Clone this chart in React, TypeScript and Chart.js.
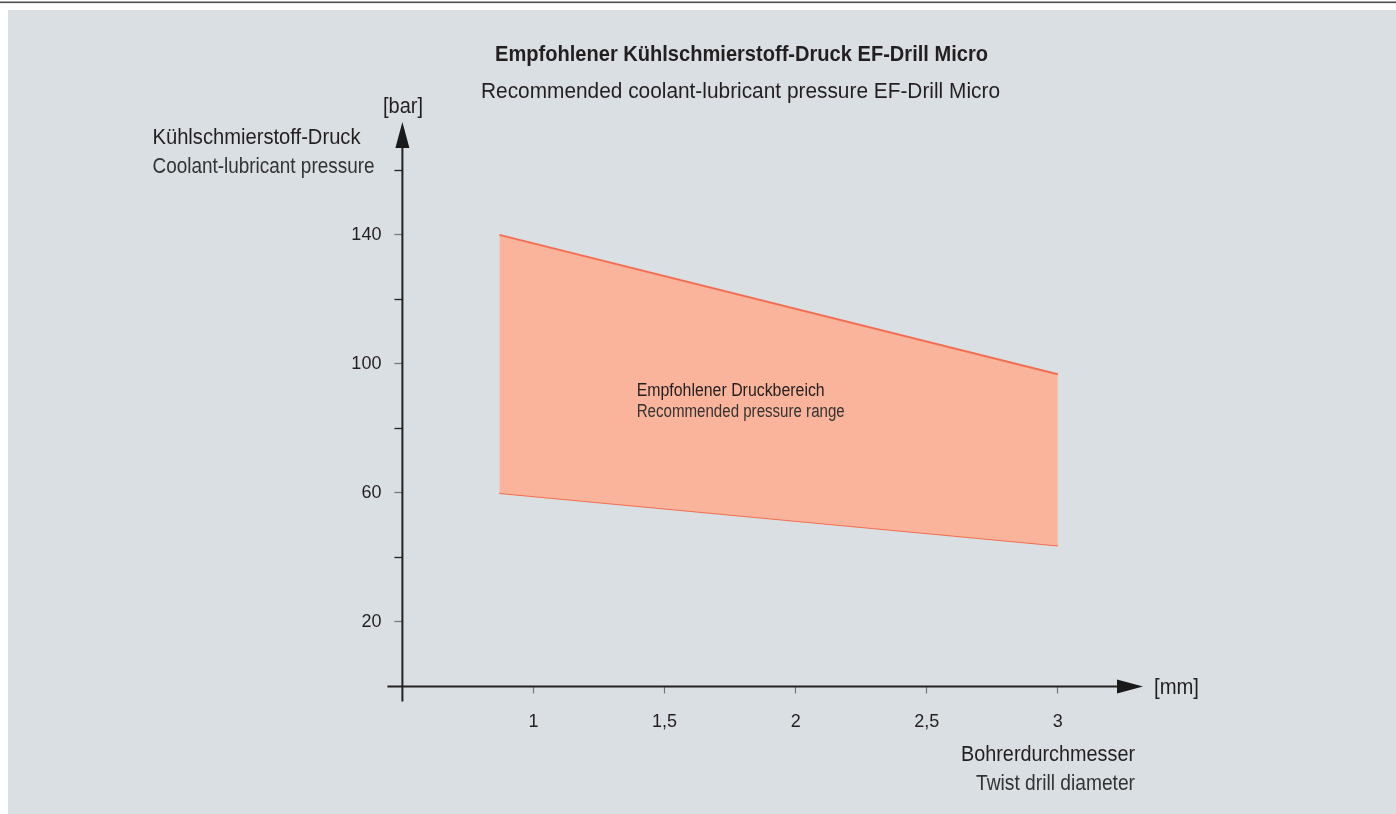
import React, { useEffect, useRef } from 'react';
import { Chart, registerables } from 'chart.js';

Chart.register(...registerables);

// ---- data ----
const upperX = [0.87, 3.0];
const upperY = [140, 96.8];
const lowerX = [0.87, 3.0];
const lowerY = [60, 43.7];
const yLabeledTicks = [20, 60, 100, 140];
const xTickValues = [1, 1.5, 2, 2.5, 3];
const xTickLabels = ['1', '1,5', '2', '2,5', '3'];

const titleDe = 'Empfohlener Kühlschmierstoff-Druck EF-Drill Micro';
const titleEn = 'Recommended coolant-lubricant pressure EF-Drill Micro';
const yUnit = '[bar]';
const yTitleDe = 'Kühlschmierstoff-Druck';
const yTitleEn = 'Coolant-lubricant pressure';
const xUnit = '[mm]';
const xTitleDe = 'Bohrerdurchmesser';
const xTitleEn = 'Twist drill diameter';
const areaDe = 'Empfohlener Druckbereich';
const areaEn = 'Recommended pressure range';

const FONT = '"Liberation Sans", Arial, sans-serif';
const DARK = '#231f20';
const LINE = '#f26e50';
const FILL = '#f9b49b';

type T = { text: string; x: number; y: number; w: number; size: number; bold?: boolean; align?: CanvasTextAlign; color?: string };

const texts: T[] = [
  { text: titleDe, x: 741.5, y: 61, w: 493, size: 22, bold: true, align: 'center' },
  { text: titleEn, x: 740.5, y: 98, w: 519, size: 22, align: 'center' },
  { text: yUnit, x: 383, y: 113, w: 40, size: 22 },
  { text: yTitleDe, x: 152.5, y: 144, w: 208, size: 22 },
  { text: yTitleEn, x: 152.5, y: 173, w: 222, size: 22, color: '#333' },
  { text: xUnit, x: 1154, y: 694, w: 45, size: 22 },
  { text: xTitleDe, x: 961, y: 761, w: 174, size: 22 },
  { text: xTitleEn, x: 1135, y: 790, w: 159, size: 22, align: 'right', color: '#333' },
  { text: areaDe, x: 636.7, y: 396, w: 188, size: 18 },
  { text: areaEn, x: 636.7, y: 417, w: 208, size: 18, color: '#333' },
];

const decorPlugin = {
  id: 'decor',
  beforeDraw(chart: any) {
    const ctx = chart.ctx as CanvasRenderingContext2D;
    ctx.save();
    ctx.fillStyle = '#ffffff';
    ctx.fillRect(0, 0, chart.width, chart.height);
    ctx.fillStyle = '#4d4d4d';
    ctx.fillRect(0, 1.5, chart.width, 1.6);
    ctx.fillStyle = '#dadfe3';
    ctx.fillRect(8, 10, chart.width - 8, chart.height - 10);
    ctx.restore();
  },
  afterDraw(chart: any) {
    const ctx = chart.ctx as CanvasRenderingContext2D;
    const xs = chart.scales.x;
    const ys = chart.scales.y;
    const area = chart.chartArea;
    const x0 = xs.getPixelForValue(xs.min);
    const y0 = ys.getPixelForValue(0);
    ctx.save();
    ctx.strokeStyle = '#222';
    ctx.fillStyle = '#1a1a1a';
    ctx.lineWidth = 2;
    // y axis
    ctx.beginPath();
    ctx.moveTo(x0, y0 + 15);
    ctx.lineTo(x0, area.top + 20);
    ctx.stroke();
    // x axis
    ctx.beginPath();
    ctx.moveTo(x0 - 15, y0);
    ctx.lineTo(area.right - 20, y0);
    ctx.stroke();
    // arrows
    ctx.beginPath();
    ctx.moveTo(x0, area.top);
    ctx.lineTo(x0 - 7, area.top + 26);
    ctx.lineTo(x0 + 7, area.top + 26);
    ctx.closePath();
    ctx.fill();
    ctx.beginPath();
    ctx.moveTo(area.right, y0);
    ctx.lineTo(area.right - 26, y0 - 7);
    ctx.lineTo(area.right - 26, y0 + 7);
    ctx.closePath();
    ctx.fill();
    // texts
    ctx.textBaseline = 'alphabetic';
    for (const t of texts) {
      ctx.font = `${t.bold ? 'bold ' : ''}${t.size}px ${FONT}`;
      ctx.fillStyle = t.color || DARK;
      ctx.textAlign = t.align || 'left';
      ctx.fillText(t.text, t.x, t.y, t.w);
    }
    ctx.restore();
  },
};

const near = (a: number, b: number) => Math.abs(a - b) < 1e-6;

export default function App() {
  const ref = useRef<HTMLCanvasElement | null>(null);
  useEffect(() => {
    if (!ref.current) return;
    const chart = new Chart(ref.current, {
      type: 'line',
      data: {
        datasets: [
          {
            label: 'upper',
            data: upperX.map((x, i) => ({ x, y: upperY[i] })),
            borderColor: LINE,
            borderWidth: 2,
            backgroundColor: FILL,
            pointRadius: 0,
            fill: '+1',
          },
          {
            label: 'lower',
            data: lowerX.map((x, i) => ({ x, y: lowerY[i] })),
            borderColor: LINE,
            borderWidth: 2,
            backgroundColor: FILL,
            pointRadius: 0,
            fill: false,
          },
        ],
      },
      options: {
        animation: false,
        responsive: false,
        devicePixelRatio: 1,
        layout: { padding: { left: 300, right: 253, top: 122, bottom: 67.5 } },
        plugins: { legend: { display: false }, tooltip: { enabled: false }, title: { display: false } },
        scales: {
          x: {
            type: 'linear',
            min: 0.5,
            max: 3.325,
            afterFit: (s: any) => { s.height = 60; },
            border: { display: false },
            grid: {
              drawOnChartArea: false,
              drawTicks: true,
              tickLength: 7,
              tickWidth: 1.2,
              tickColor: '#777',
            },
            ticks: {
              stepSize: 0.5,
              includeBounds: false,
              autoSkip: false,
              maxRotation: 0,
              padding: 18,
              color: DARK,
              font: { family: FONT, size: 18 },
              callback: (v: any) => {
                const i = xTickValues.findIndex((t) => near(t, Number(v)));
                return i >= 0 ? xTickLabels[i] : null;
              },
            },
          },
          y: {
            type: 'linear',
            min: 0,
            max: 175,
            afterFit: (s: any) => { s.width = 102.4; },
            border: { display: false },
            grid: {
              drawOnChartArea: false,
              drawTicks: true,
              tickLength: 8,
              tickWidth: 1.3,
              tickColor: (c: any) => (c.tick && yLabeledTicks.some((t) => near(t, c.tick.value)) ? '#7a7a7a' : '#222'),
            },
            ticks: {
              stepSize: 20,
              includeBounds: false,
              autoSkip: false,
              padding: 13,
              color: DARK,
              font: { family: FONT, size: 18 },
              callback: (v: any) => {
                const n = Number(v);
                if (near(n, 0)) return null;
                return yLabeledTicks.some((t) => near(t, n)) ? String(n) : '';
              },
            },
          },
        },
      },
      plugins: [decorPlugin],
    } as any);
    return () => chart.destroy();
  }, []);
  return (
    <div style={{ position: 'fixed', left: 0, top: 0, width: 1396, height: 814 }}>
      <canvas ref={ref} width={1396} height={814} style={{ display: 'block' }} />
    </div>
  );
}
